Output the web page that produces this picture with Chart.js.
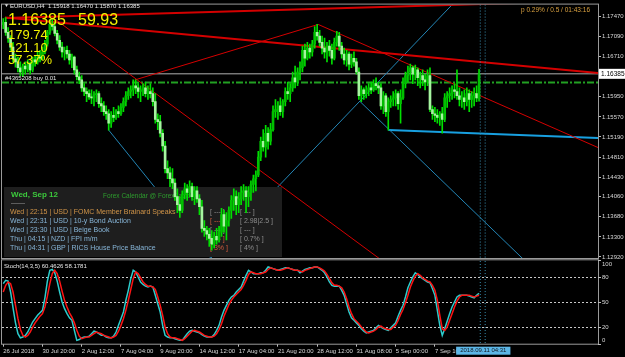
<!DOCTYPE html>
<html><head><meta charset="utf-8">
<script src="https://cdn.jsdelivr.net/npm/chart.js@4.4.0/dist/chart.umd.min.js"></script>
<style>
html,body{margin:0;padding:0;background:#000;}
#wrap{position:relative;width:625px;height:357px;background:#000;overflow:hidden;}
canvas{position:absolute;left:0;top:0;}
</style></head><body>
<div id="wrap"><canvas id="main" width="625" height="357"></canvas><canvas id="stoch" width="625" height="357"></canvas></div>
<script>
// ---------- DATA ----------
const symbol = 'EURUSD,H4';
const opens = [1.1732,1.1736,1.1717,1.1706,1.1689,1.1667,1.1661,1.1650,1.1642,1.1653,
1.1648,1.1657,1.1646,1.1665,1.1661,1.1670,1.1668,1.1680,1.1695,1.1717,
1.1732,1.1728,1.1715,1.1702,1.1689,1.1680,1.1683,1.1676,1.1665,1.1670,
1.1646,1.1633,1.1627,1.1612,1.1605,1.1601,1.1595,1.1593,1.1599,1.1601,
1.1582,1.1578,1.1567,1.1563,1.1545,1.1560,1.1556,1.1567,1.1563,1.1575,
1.1586,1.1597,1.1605,1.1608,1.1616,1.1612,1.1605,1.1608,1.1612,1.1601,
1.1605,1.1601,1.1586,1.1552,1.1548,1.1526,1.1502,1.1459,1.1451,1.1440,
1.1432,1.1406,1.1391,1.1380,1.1410,1.1421,1.1414,1.1425,1.1406,1.1417,
1.1402,1.1387,1.1346,1.1342,1.1335,1.1327,1.1316,1.1331,1.1324,1.1339,
1.1372,1.1350,1.1361,1.1380,1.1399,1.1406,1.1391,1.1402,1.1414,1.1417,
1.1406,1.1414,1.1429,1.1440,1.1447,1.1481,1.1511,1.1500,1.1526,1.1511,
1.1533,1.1567,1.1571,1.1578,1.1567,1.1586,1.1605,1.1601,1.1612,1.1631,
1.1623,1.1642,1.1650,1.1683,1.1668,1.1687,1.1680,1.1695,1.1717,1.1710,
1.1698,1.1687,1.1680,1.1691,1.1683,1.1668,1.1698,1.1710,1.1691,1.1676,
1.1665,1.1676,1.1657,1.1668,1.1661,1.1642,1.1597,1.1608,1.1601,1.1608,
1.1612,1.1608,1.1620,1.1616,1.1612,1.1578,1.1597,1.1567,1.1586,1.1590,
1.1593,1.1601,1.1582,1.1593,1.1620,1.1635,1.1642,1.1650,1.1638,1.1646,
1.1631,1.1635,1.1627,1.1623,1.1635,1.1571,1.1563,1.1560,1.1556,1.1563,
1.1552,1.1593,1.1597,1.1601,1.1608,1.1605,1.1597,1.1590,1.1593,1.1586,
1.1601,1.1590,1.1597,1.1601,1.15918];
const highs = [1.1743,1.1745,1.1726,1.1711,1.1698,1.1676,1.1670,1.1661,1.1657,1.1661,
1.1665,1.1661,1.1670,1.1672,1.1680,1.1683,1.1689,1.1702,1.1721,1.1740,
1.1741,1.1736,1.1721,1.1711,1.1698,1.1689,1.1691,1.1683,1.1676,1.1672,
1.1653,1.1642,1.1635,1.1620,1.1612,1.1608,1.1608,1.1605,1.1608,1.1605,
1.1593,1.1586,1.1578,1.1571,1.1567,1.1575,1.1571,1.1578,1.1582,1.1593,
1.1605,1.1612,1.1616,1.1627,1.1627,1.1620,1.1616,1.1620,1.1623,1.1616,
1.1620,1.1612,1.1601,1.1563,1.1560,1.1533,1.1511,1.1474,1.1462,1.1459,
1.1440,1.1421,1.1406,1.1417,1.1432,1.1429,1.1436,1.1432,1.1425,1.1425,
1.1410,1.1399,1.1361,1.1350,1.1346,1.1342,1.1339,1.1346,1.1350,1.1384,
1.1380,1.1376,1.1387,1.1408,1.1421,1.1417,1.1414,1.1425,1.1429,1.1425,
1.1425,1.1436,1.1447,1.1455,1.1492,1.1519,1.1533,1.1541,1.1537,1.1545,
1.1578,1.1590,1.1586,1.1593,1.1590,1.1612,1.1623,1.1620,1.1642,1.1653,
1.1650,1.1661,1.1691,1.1695,1.1698,1.1695,1.1702,1.1728,1.1732,1.1721,
1.1710,1.1706,1.1698,1.1702,1.1695,1.1706,1.1719,1.1717,1.1698,1.1687,
1.1683,1.1680,1.1676,1.1680,1.1668,1.1650,1.1616,1.1612,1.1616,1.1620,
1.1623,1.1627,1.1631,1.1623,1.1620,1.1605,1.1601,1.1593,1.1597,1.1605,
1.1608,1.1605,1.1608,1.1631,1.1642,1.1653,1.1657,1.1653,1.1655,1.1650,
1.1642,1.1646,1.1638,1.1646,1.1650,1.1578,1.1575,1.1571,1.1567,1.1575,
1.1601,1.1605,1.1612,1.1616,1.1620,1.1646,1.1612,1.1605,1.1608,1.1612,
1.1608,1.1605,1.1612,1.1616,1.16470];
const lows = [1.1724,1.1711,1.1698,1.1683,1.1661,1.1651,1.1642,1.1635,1.1633,1.1638,
1.1642,1.1638,1.1642,1.1653,1.1657,1.1661,1.1665,1.1676,1.1691,1.1713,
1.1721,1.1710,1.1695,1.1683,1.1670,1.1665,1.1668,1.1657,1.1650,1.1638,
1.1627,1.1620,1.1605,1.1597,1.1586,1.1590,1.1582,1.1578,1.1586,1.1575,
1.1567,1.1560,1.1552,1.1532,1.1537,1.1548,1.1552,1.1556,1.1560,1.1567,
1.1578,1.1590,1.1593,1.1597,1.1601,1.1593,1.1586,1.1597,1.1595,1.1590,
1.1593,1.1578,1.1545,1.1533,1.1519,1.1492,1.1451,1.1440,1.1425,1.1421,
1.1399,1.1376,1.1367,1.1376,1.1402,1.1399,1.1406,1.1399,1.1391,1.1395,
1.1372,1.1339,1.1331,1.1324,1.1312,1.1305,1.1309,1.1316,1.1320,1.1331,
1.1339,1.1324,1.1350,1.1365,1.1380,1.1372,1.1376,1.1391,1.1399,1.1376,
1.1387,1.1399,1.1414,1.1417,1.1444,1.1474,1.1492,1.1481,1.1496,1.1504,
1.1530,1.1556,1.1552,1.1560,1.1556,1.1578,1.1590,1.1586,1.1605,1.1612,
1.1616,1.1627,1.1642,1.1653,1.1665,1.1668,1.1672,1.1687,1.1702,1.1691,
1.1676,1.1668,1.1661,1.1672,1.1657,1.1665,1.1691,1.1683,1.1668,1.1657,
1.1653,1.1646,1.1650,1.1653,1.1638,1.1590,1.1586,1.1590,1.1593,1.1597,
1.1601,1.1605,1.1608,1.1601,1.1571,1.1563,1.1558,1.1532,1.1575,1.1578,
1.1578,1.1571,1.1545,1.1590,1.1612,1.1623,1.1627,1.1620,1.1627,1.1616,
1.1612,1.1616,1.1608,1.1616,1.1567,1.1552,1.1548,1.1545,1.1541,1.1526,
1.1548,1.1575,1.1586,1.1590,1.1593,1.1590,1.1578,1.1575,1.1571,1.1578,
1.1567,1.1575,1.1578,1.1586,1.15870];
const closes = [1.1736,1.1717,1.1706,1.1689,1.1667,1.1661,1.1650,1.1642,1.1653,1.1648,
1.1657,1.1646,1.1665,1.1661,1.1670,1.1668,1.1680,1.1695,1.1717,1.1732,
1.1728,1.1715,1.1702,1.1689,1.1680,1.1683,1.1676,1.1665,1.1670,1.1646,
1.1633,1.1627,1.1612,1.1605,1.1601,1.1595,1.1593,1.1599,1.1601,1.1582,
1.1578,1.1567,1.1563,1.1545,1.1560,1.1556,1.1567,1.1563,1.1575,1.1586,
1.1597,1.1605,1.1608,1.1616,1.1612,1.1605,1.1608,1.1612,1.1601,1.1605,
1.1601,1.1586,1.1552,1.1548,1.1526,1.1502,1.1459,1.1451,1.1440,1.1432,
1.1406,1.1391,1.1380,1.1410,1.1421,1.1414,1.1425,1.1406,1.1417,1.1402,
1.1387,1.1346,1.1342,1.1335,1.1327,1.1316,1.1331,1.1324,1.1339,1.1372,
1.1350,1.1361,1.1380,1.1399,1.1406,1.1391,1.1402,1.1414,1.1417,1.1406,
1.1414,1.1429,1.1440,1.1447,1.1481,1.1511,1.1500,1.1526,1.1511,1.1533,
1.1567,1.1571,1.1578,1.1567,1.1586,1.1605,1.1601,1.1612,1.1631,1.1623,
1.1642,1.1650,1.1683,1.1668,1.1687,1.1680,1.1695,1.1717,1.1710,1.1698,
1.1687,1.1680,1.1691,1.1683,1.1668,1.1698,1.1710,1.1691,1.1676,1.1665,
1.1676,1.1657,1.1668,1.1661,1.1642,1.1597,1.1608,1.1601,1.1608,1.1612,
1.1608,1.1620,1.1616,1.1612,1.1578,1.1597,1.1567,1.1586,1.1590,1.1593,
1.1601,1.1582,1.1593,1.1620,1.1635,1.1642,1.1650,1.1638,1.1646,1.1631,
1.1635,1.1627,1.1623,1.1635,1.1571,1.1563,1.1560,1.1556,1.1563,1.1552,
1.1593,1.1597,1.1601,1.1608,1.1605,1.1597,1.1590,1.1593,1.1586,1.1601,
1.1590,1.1597,1.1601,1.1593,1.16385];

const stochK = [72,76,75,62,43,25,12,7,8,10,
14,20,26,30,34,37,40,55,75,88,
89,85,75,62,50,42,36,31,28,16,
4,5,7,8,8,9,12,15,14,12,
10,10,8,7,7,9,14,22,30,38,
52,64,78,88,86,80,74,71,69,68,
69,68,58,48,38,22,10,8,7,7,
6,5,4,4,8,12,15,16,15,14,
13,11,9,8,8,8,11,16,22,32,
40,46,52,56,58,62,65,68,75,82,
88,86,84,84,84,85,85,88,92,91,
90,89,88,89,90,91,91,90,89,88,
88,85,87,89,90,91,91,92,92,90,
88,85,80,74,70,69,69,69,64,58,
48,38,31,28,25,22,18,15,13,14,
15,16,19,22,20,18,17,16,19,22,
25,33,40,46,56,67,74,80,85,83,
80,78,76,74,73,66,58,40,22,10,
18,27,36,44,50,56,58,58,58,58,
57,56,55,58,60.4626];
const stochD = [62,70,74,72,62,46,30,17,10,8,
10,14,20,25,29,33,36,44,57,72,
84,88,84,75,63,52,44,37,32,25,
16,9,6,7,8,8,10,12,14,13,
12,10,9,8,7,8,10,15,22,30,
40,52,65,78,86,84,79,74,71,69,
69,68,65,56,46,34,20,12,8,7,
7,6,5,4,6,9,12,15,16,15,
14,12,10,9,8,8,9,12,17,24,
33,40,47,52,56,59,62,65,70,76,
83,86,85,84,84,84,85,86,89,91,
90,89,88,88,89,90,91,90,89,88,
88,87,86,88,89,90,91,92,92,91,
89,87,83,78,73,70,70,69,67,62,
54,44,36,30,27,24,20,17,14,13,
14,15,17,20,21,19,18,17,17,20,
22,28,35,41,49,58,68,75,81,84,
82,79,77,75,74,70,64,52,34,18,
16,20,28,36,44,51,56,58,58,58,
58,57,56,57,58.1781];

const timeLabels = ['26 Jul 2018','30 Jul 20:00','2 Aug 12:00','7 Aug 04:00','9 Aug 20:00','14 Aug 12:00',
  '17 Aug 04:00','21 Aug 20:00','28 Aug 12:00','31 Aug 08:00','5 Sep 00:00','7 Sep 16:00'];
const timeLabelBars = [0,16,32,48,64,80,96,112,128,144,160,176];
const priceTicks = ['1.17470','1.17090','1.16710','1.16330','1.15950','1.15570','1.15190','1.14810','1.14430','1.14060','1.13680','1.13300','1.12920'];
const stochTicks = [100,80,50,20,0];
const stochLevels = [80,50,20];
const totalSlots = 243;

// chart objects in (bar index, price)
const redLines = [
  {a:[0.7,1.1744], b:[242.5,1.1777], w:2},
  {a:[0.7,1.1745], b:[242.5,1.1640], w:2},
  {a:[21.1,1.1742], b:[161.8,1.1260], w:1},
  {a:[53.7,1.1627], b:[128.4,1.1732], w:1},
  {a:[128.4,1.1732], b:[242.5,1.1499], w:1}
];
const blueLines = [
  {a:[43,1.1532], b:[96.5,1.1224], w:1},
  {a:[84.2,1.1290], b:[184.2,1.1775], w:1},
  {a:[145.5,1.1586], b:[218.9,1.1257], w:1},
  {a:[157,1.1532], b:[242.5,1.1517], w:2}
];
const vLineBars = [194.5, 196.5];
const bidPrice = closes[closes.length-1];
const orderPrice = 1.16220;
const orderLabel = '#4365208 buy 0.01';
const infoBig = ['1.16385','59.93'];
const infoLines = ['179.74','121.10','57.37%'];
const timerText = 'p 0.29% / 0.5 / 01:43:16';
const cursorTimeLabel = '2018.09.11 04:31';
const calDate = 'Wed, Sep 12';
const calTitle = 'Forex Calendar @ ForexFactory';
const calDays = ['Wed','Wed','Wed','Thu','Thu'];
const calTimes = ['22:15','22:31','23:30','04:15','04:31'];
const calCur = ['USD','USD','USD','NZD','GBP'];
const calEvents = ['FOMC Member Brainard Speaks','10-y Bond Auction','Beige Book','FPI m/m','RICS House Price Balance'];
const calForecast = ['[ --- ]','[ --- ]','[ --- ]','[ --- ]','[ 3% ]'];
const calPrevious = ['[ --- ]','[ 2.98|2.5 ]','[ --- ]','[ 0.7% ]','[ 4% ]'];

// ---------- DRAWING ----------
const FONT = '"Liberation Sans", Arial, sans-serif';
const last = closes.length - 1;

function lineDs(seg, color, extra){
  return Object.assign({type:'line', data:[{x:seg.a[0],y:seg.a[1]},{x:seg.b[0],y:seg.b[1]}],
    borderColor:color, borderWidth:seg.w, pointRadius:0, order:10, clip:0}, extra||{});
}
const mainDatasets = [];
mainDatasets.push({type:'line', label:'bid', data:[{x:-0.5,y:bidPrice},{x:242.5,y:bidPrice}], borderColor:'#b0b0b0', borderWidth:1, pointRadius:0, order:12, clip:0});
mainDatasets.push({type:'line', label:'order', data:[{x:-0.5,y:orderPrice},{x:242.5,y:orderPrice}], borderColor:'#22a022', borderWidth:2, borderDash:[7,2,2,2], pointRadius:0, order:11, clip:0});
redLines.forEach(s=>mainDatasets.push(lineDs(s,'#d40000')));
blueLines.forEach((s,k)=>mainDatasets.push(lineDs(s, k===3?'#18a0e0':'#2385b5')));
vLineBars.forEach(v=>mainDatasets.push({type:'line', data:[{x:v,y:1.12},{x:v,y:1.18}], borderColor:'#3a8fb0', borderWidth:1, borderDash:[1,2], pointRadius:0, order:9, clip:0}));
mainDatasets.push({type:'bar', label:'wicks', data:highs.map((h,i)=>({x:i,y:[lows[i],h]})), backgroundColor:'#00e000',
  grouped:false, barThickness:1, maxBarThickness:1, borderWidth:0, order:2});
mainDatasets.push({type:'bar', label:'bodies', data:opens.map((o,i)=>({x:i,y:[o,closes[i]]})),
  backgroundColor:opens.map((o,i)=> closes[i]>=o ? '#00c000' : '#a6f5a0'), grouped:false, barThickness:2, maxBarThickness:2, minBarLength:1, borderWidth:0, order:1});

function txt(ctx, s, x, y, color, size, opt){
  opt = opt||{};
  ctx.font = (opt.bold?'bold ':'') + size + 'px ' + FONT;
  ctx.fillStyle = color; ctx.textAlign = opt.align||'left'; ctx.textBaseline = opt.base||'middle';
  ctx.fillText(s, x, y);
}

const mainDecor = {
  id:'mainDecor',
  beforeDraw(chart){ const c=chart.ctx; c.save(); c.fillStyle='#000'; c.fillRect(0,0,chart.width,chart.height); c.restore(); },
  beforeDatasetDraw(chart, args){
    if (chart.data.datasets[args.index].label !== 'wicks') return;
    const c = chart.ctx; c.save();
    c.fillStyle = '#1e1e1e'; c.fillRect(4,187,278,70);
    txt(c, calDate, 11, 195, '#3cc83c', 8, {bold:true});
    txt(c, calTitle, 103, 196, '#2e9e2e', 6.5);
    txt(c, '-------', 11, 203, '#bbbbbb', 6);
    for (let r=0;r<calDays.length;r++){
      const y = 212 + r*9.1;
      const col = r===0 ? '#d09448' : '#86b4d6';
      txt(c, calDays[r]+' | '+calTimes[r]+' | '+calCur[r]+' | '+calEvents[r], 10, y, col, 7);
      txt(c, calForecast[r], 210, y, (r===1||r===3||r===4)?'#d05a3c':'#8c8c8c', 7);
      txt(c, calPrevious[r], 240, y, '#8c8c8c', 7);
    }
    c.restore();
  },
  afterDraw(chart){
    const c = chart.ctx, a = chart.chartArea, ys = chart.scales.y;
    c.save();
    c.strokeStyle = '#9a9a9a'; c.lineWidth = 1;
    c.strokeRect(a.left-0.5, a.top-0.5, a.right-a.left+1, a.bottom-a.top+1);
    txt(c, '\u25BC', 4, 6, '#e0e0e0', 5);
    txt(c, symbol+'  '+[opens[last],highs[last],lows[last],closes[last]].map(v=>v.toFixed(5)).join(' '), 10, 6, '#e8e8e8', 6);
    txt(c, timerText, 590, 10, '#d8a040', 6.5, {align:'right'});
    txt(c, infoBig[0], 8, 25, '#f2f200', 16, {base:'alphabetic'});
    txt(c, infoBig[1], 78, 25, '#f2f200', 16, {base:'alphabetic'});
    infoLines.forEach((s,k)=> txt(c, s, 8, 39 + k*12.5, '#f2f200', 13, {base:'alphabetic'}));
    const oy = ys.getPixelForValue(orderPrice);
    txt(c, orderLabel, 5, oy-4, '#e8e8e8', 6);
    const by = ys.getPixelForValue(bidPrice);
    c.fillStyle = '#ffffff'; c.fillRect(a.right+1, by-5, 26, 10);
    txt(c, bidPrice.toFixed(5), a.right+3, by, '#000000', 6.5);
    c.restore();
  }
};

const xCommon = {type:'linear', min:-0.5, max:totalSlots-0.5, offset:false, bounds:'data', grace:0};

new Chart(document.getElementById('main'), {
  type:'bar',
  data:{datasets: mainDatasets},
  options:{
    responsive:false, animation:false, events:[], devicePixelRatio:1,
    layout:{padding:{left:2, top:2, right:0, bottom:99}},
    plugins:{legend:{display:false}, tooltip:{enabled:false}},
    scales:{
      x:Object.assign({}, xCommon, {position:'bottom', display:true, afterFit(s){ s.height = 0; },
        ticks:{display:false}, grid:{display:false, offset:false}, border:{display:false}}),
      y:{type:'linear', position:'right', min:1.12900, max:1.17695,
        afterFit(s){ s.width = 27; },
        afterBuildTicks(s){ s.ticks = priceTicks.map(t=>({value:parseFloat(t)})); },
        ticks:{callback:(v,i)=>priceTicks[i], color:'#d8d8d8', font:{size:6, family:FONT}, padding:1, autoSkip:false},
        grid:{drawOnChartArea:false, drawTicks:true, tickLength:3, color:'#bdbdbd'},
        border:{display:false}}
    }
  },
  plugins:[mainDecor]
});

// ---------- STOCHASTIC ----------
const stochDecor = {
  id:'stochDecor',
  beforeDatasetsDraw(chart){
    const c = chart.ctx, a = chart.chartArea, ys = chart.scales.y;
    c.save(); c.strokeStyle = '#c8c8c8'; c.lineWidth = 1; c.setLineDash([2,2]);
    stochLevels.forEach(l=>{ const y = Math.round(ys.getPixelForValue(l))+0.5; c.beginPath(); c.moveTo(a.left,y); c.lineTo(a.right,y); c.stroke(); });
    c.restore();
  },
  afterDraw(chart){
    const c = chart.ctx, a = chart.chartArea, ys = chart.scales.y, xs = chart.scales.x;
    c.save();
    c.strokeStyle = '#9a9a9a'; c.lineWidth = 1;
    c.strokeRect(a.left-0.5, a.top-0.5, a.right-a.left+1, a.bottom-a.top+1);
    txt(c, 'Stoch(14,3,5) '+stochK[last].toFixed(4)+' '+stochD[last].toFixed(4), 4, a.top+6, '#e8e8e8', 6);
    stochTicks.forEach(v=>{
      let y = ys.getPixelForValue(v);
      if (v===100) y += 4; if (v===0) y -= 3.5;
      const ty = Math.round(ys.getPixelForValue(v))+0.5;
      c.strokeStyle='#bdbdbd'; c.beginPath(); c.moveTo(a.right, ty); c.lineTo(a.right+3, ty); c.stroke();
      txt(c, String(v), a.right+4, y, '#d8d8d8', 6);
    });
    const cx = xs.getPixelForValue(vLineBars[0]);
    c.font = '6px '+FONT; const w = c.measureText(cursorTimeLabel).width + 8;
    const bx = cx - w/2 + 3;
    c.fillStyle = '#5cb6e6'; c.fillRect(bx, a.bottom+3, w, 8);
    txt(c, cursorTimeLabel, bx+4, a.bottom+7, '#101820', 6);
    c.restore();
  }
};

const stochDatasets = [
  {label:'D', data:stochD.map((v,i)=>({x:i,y:v})), borderColor:'#ff1414', borderWidth:1.5, pointRadius:0, order:1, clip:0},
  {label:'K', data:stochK.map((v,i)=>({x:i,y:v})), borderColor:'#2ccccc', borderWidth:1.5, pointRadius:0, order:2, clip:0}
];
vLineBars.forEach(v=>stochDatasets.push({data:[{x:v,y:-10},{x:v,y:110}], borderColor:'#3a8fb0', borderWidth:1, borderDash:[1,2], pointRadius:0, order:5, clip:0}));

new Chart(document.getElementById('stoch'), {
  type:'line',
  data:{datasets: stochDatasets},
  options:{
    responsive:false, animation:false, events:[], devicePixelRatio:1,
    layout:{padding:{left:2, top:260.3, right:0, bottom:0}},
    plugins:{legend:{display:false}, tooltip:{enabled:false}},
    scales:{
      x:Object.assign({}, xCommon, {position:'bottom',
        afterFit(s){ s.height = 13.3; },
        afterBuildTicks(s){ s.ticks = timeLabelBars.map(b=>({value:b})); },
        ticks:{callback:(v,i)=>timeLabels[i], align:'start', maxRotation:0, autoSkip:false, color:'#d8d8d8', font:{size:6, family:FONT}, padding:1},
        grid:{drawOnChartArea:false, drawTicks:true, tickLength:3, color:'#bdbdbd'},
        border:{display:false}}),
      y:{type:'linear', position:'right', min:0, max:100,
        afterFit(s){ s.width = 27; },
        ticks:{display:false}, grid:{display:false}, border:{display:false}}
    }
  },
  plugins:[stochDecor]
});
</script>
</body></html>
